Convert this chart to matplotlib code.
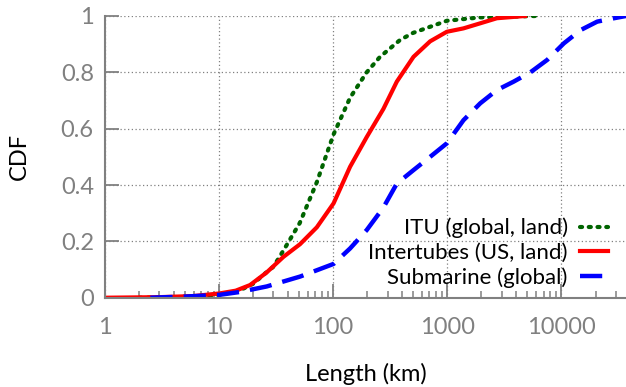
import numpy as np
import matplotlib.pyplot as plt
from matplotlib.ticker import LogLocator, FixedLocator, NullFormatter

# values (length in km, CDF)
itu_len = [2, 5, 10, 15, 20, 26, 30, 37, 51, 72, 101, 141, 197, 258, 387, 503, 994, 1950, 6100]
itu_cdf = [0.0, 0.003, 0.01, 0.025, 0.05, 0.09, 0.11, 0.17, 0.265, 0.41, 0.58, 0.71, 0.80, 0.855, 0.915, 0.94, 0.983, 0.995, 1.0]

tubes_len = [1, 3, 6, 10, 14, 18.7, 26.2, 36.7, 51.3, 72, 101, 141, 197, 276, 362, 507, 709, 994, 1390, 1950, 2730, 4830]
tubes_cdf = [0.0, 0.002, 0.006, 0.015, 0.025, 0.045, 0.09, 0.145, 0.19, 0.25, 0.335, 0.465, 0.57, 0.67, 0.767, 0.855, 0.91, 0.944, 0.956, 0.974, 0.992, 1.0]

sub_len = [2.5, 5, 10, 15, 26.2, 51.3, 101, 141, 197, 276, 362, 507, 709, 994, 1390, 1950, 2730, 3830, 5370, 7530, 10560, 14800, 20700, 29000, 37000]
sub_cdf = [0.0, 0.004, 0.01, 0.02, 0.04, 0.075, 0.12, 0.175, 0.24, 0.32, 0.405, 0.453, 0.50, 0.548, 0.63, 0.69, 0.737, 0.767, 0.80, 0.844, 0.903, 0.95, 0.98, 0.992, 1.0]

labels = ["ITU (global, land)", "Intertubes (US, land)", "Submarine (global)"]

plt.rcParams["font.family"] = ["Lato", "DejaVu Sans"]
grey = "#808080"

fig = plt.figure(figsize=(6.26, 3.87), dpi=100)
ax = fig.add_axes([0.1677, 0.2307, 0.8323, 0.728])

ax.plot(itu_len, itu_cdf, color="#006400", lw=3, linestyle=(0, (0.5, 1.6)),
        dash_capstyle="round", label=labels[0])
ax.plot(tubes_len, tubes_cdf, color="#ff0000", lw=3, label=labels[1])
ax.plot(sub_len, sub_cdf, color="#0000ff", lw=3.2, linestyle=(0, (5, 2.5)),
        label=labels[2])

ax.set_xscale("log")
ax.set_xlim(1, 37000)
ax.set_ylim(0, 1)
ax.xaxis.set_major_locator(FixedLocator([1, 10, 100, 1000, 10000]))
ax.xaxis.set_minor_locator(LogLocator(base=10, subs=np.arange(2, 10)))
ax.xaxis.set_minor_formatter(NullFormatter())
ax.set_xticklabels(["1", "10", "100", "1000", "10000"])
ax.set_yticks([0, 0.2, 0.4, 0.6, 0.8, 1])
ax.set_yticklabels(["0", "0.2", "0.4", "0.6", "0.8", "1"])

ax.grid(True, which="major", color=grey, linestyle=(0, (1, 2)), lw=0.9)
for s in ["top", "right"]:
    ax.spines[s].set_visible(False)
for s in ["left", "bottom"]:
    ax.spines[s].set_color(grey)
    ax.spines[s].set_linewidth(1.5)
    ax.spines[s].set_zorder(5)

ax.tick_params(axis="both", which="major", direction="in", length=10, width=1.3,
               color=grey, labelcolor=grey, labelsize=17)
ax.tick_params(axis="x", which="major", pad=14)
ax.tick_params(axis="y", which="major", pad=8)
ax.tick_params(axis="x", which="minor", direction="in", length=5, width=1.1, color=grey)

ax.set_xlabel("Length (km)", fontsize=17, labelpad=18)
ax.set_ylabel("CDF", fontsize=17, labelpad=22)

ax.legend(loc="lower right", bbox_to_anchor=(0.965, 0.035), frameon=False, markerfirst=False,
          fontsize=16, handlelength=1.25, handletextpad=0.55, labelspacing=0.2,
          borderaxespad=0, borderpad=0)

fig.savefig("out.png", dpi=100)
